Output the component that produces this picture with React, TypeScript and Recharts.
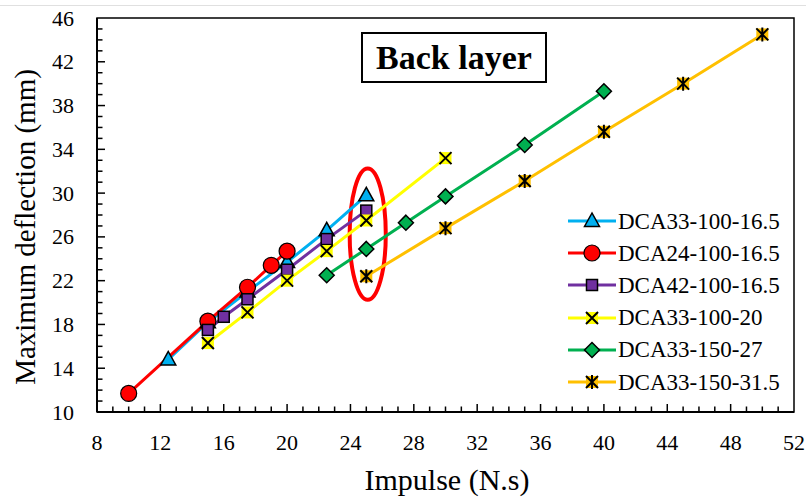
import React from 'react';
import { LineChart, Line, XAxis, YAxis, ReferenceArea } from 'recharts';

// Data
const impulseA = [12.5, 15, 17.5, 20, 22.5, 25];
const deflA = [14.8, 18.2, 21.0, 23.7, 26.6, 29.8];
const impulseB = [10, 15, 17.5, 19, 20];
const deflB = [11.7, 18.3, 21.4, 23.4, 24.7];
const impulseC = [15, 16, 17.5, 20, 22.5, 25];
const deflC = [17.5, 18.7, 20.3, 23.0, 25.8, 28.4];
const impulseD = [15, 17.5, 20, 22.5, 25, 30];
const deflD = [16.3, 19.1, 22.0, 24.7, 27.5, 33.2];
const impulseE = [22.5, 25, 27.5, 30, 35, 40];
const deflE = [22.5, 24.9, 27.3, 29.7, 34.4, 39.3];
const impulseF = [25, 30, 35, 40, 45, 50];
const deflF = [22.4, 26.8, 31.1, 35.6, 40.0, 44.5];

const seriesNames = [
  'DCA33-100-16.5',
  'DCA24-100-16.5',
  'DCA42-100-16.5',
  'DCA33-100-20',
  'DCA33-150-27',
  'DCA33-150-31.5',
];
const seriesColors = ['#00B0F0', '#FF0000', '#7030A0', '#FFFF00', '#00B050', '#FFC000'];
const markerKinds = ['triangle', 'circle', 'square', 'x', 'diamond', 'star'];

const xTicks = Array.from({ length: 45 }, (_, i) => 8 + i);
const yTicks = Array.from({ length: 37 }, (_, i) => 10 + i);

const zip = (xs: number[], ys: number[]) => xs.map((x, i) => ({ x, y: ys[i] }));
const seriesData = [
  zip(impulseA, deflA),
  zip(impulseB, deflB),
  zip(impulseC, deflC),
  zip(impulseD, deflD),
  zip(impulseE, deflE),
  zip(impulseF, deflF),
];

const FONT = "'Liberation Serif', 'Times New Roman', serif";

function Marker({ kind, cx, cy, color }: { kind: string; cx: number; cy: number; color: string }) {
  if (cx == null || cy == null) return null;
  switch (kind) {
    case 'triangle':
      return (
        <polygon
          points={`${cx},${cy - 8} ${cx - 7.5},${cy + 5.5} ${cx + 7.5},${cy + 5.5}`}
          fill={color}
          stroke="#000"
          strokeWidth={1.5}
        />
      );
    case 'circle':
      return <circle cx={cx} cy={cy} r={8} fill={color} stroke="#000" strokeWidth={1.2} />;
    case 'square':
      return <rect x={cx - 5.5} y={cy - 5.5} width={11} height={11} fill={color} stroke="#000" strokeWidth={1.5} />;
    case 'x':
      return (
        <g>
          <rect x={cx - 6} y={cy - 6} width={12} height={12} fill={color} />
          <path d={`M${cx - 6},${cy - 6}L${cx + 6},${cy + 6}M${cx + 6},${cy - 6}L${cx - 6},${cy + 6}`} stroke="#000" strokeWidth={2} />
        </g>
      );
    case 'diamond':
      return (
        <polygon
          points={`${cx},${cy - 7.5} ${cx + 7.5},${cy} ${cx},${cy + 7.5} ${cx - 7.5},${cy}`}
          fill={color}
          stroke="#000"
          strokeWidth={1.5}
        />
      );
    case 'star':
      return (
        <g>
          <rect x={cx - 6} y={cy - 6} width={12} height={12} fill={color} />
          <path
            d={`M${cx - 6},${cy - 6}L${cx + 6},${cy + 6}M${cx + 6},${cy - 6}L${cx - 6},${cy + 6}M${cx},${cy - 7}L${cx},${cy + 7}`}
            stroke="#000"
            strokeWidth={2}
          />
        </g>
      );
  }
  return null;
}

const XTick = (props: any) => {
  const { x, y, payload } = props;
  const v = payload.value as number;
  const major = (v - 8) % 4 === 0;
  return (
    <g>
      {v !== 8 && v !== 52 && <line x1={x} y1={y} x2={x} y2={y - (major ? 8 : 5.5)} stroke="#000" strokeWidth={1.5} />}
      {major && (
        <text x={x} y={y + 37.5} textAnchor="middle" fontFamily={FONT} fontSize={22} fill="#000">
          {v}
        </text>
      )}
    </g>
  );
};

const YTick = (props: any) => {
  const { x, y, payload } = props;
  const v = payload.value as number;
  const major = (v - 10) % 4 === 0;
  return (
    <g>
      {v !== 10 && v !== 46 && <line x1={x} y1={y} x2={x + (major ? 8 : 5.5)} y2={y} stroke="#000" strokeWidth={1.5} />}
      {major && (
        <text x={x - 23} y={y + 7.5} textAnchor="end" fontFamily={FONT} fontSize={22} fill="#000">
          {v}
        </text>
      )}
    </g>
  );
};

const EllipseShape = (props: any) => {
  const { x, y, width, height } = props;
  return (
    <ellipse
      cx={x + width / 2}
      cy={y + height / 2}
      rx={width / 2}
      ry={height / 2}
      fill="none"
      stroke="#FF0000"
      strokeWidth={4}
    />
  );
};

export default function App() {
  return (
    <div style={{ position: 'absolute', left: 0, top: 0, width: 806, height: 497, background: '#fff' }}>
      <div style={{ position: 'absolute', left: 0, top: 5, width: 806, height: 0, borderTop: '1px solid #e0e0e0' }} />
      <LineChart width={806} height={497} margin={{ top: 18, right: 12, bottom: 25, left: 37 }}>
        <XAxis
          dataKey="x"
          type="number"
          domain={[8, 52]}
          ticks={xTicks}
          interval={0}
          allowDecimals={false}
          tickLine={false}
          tickSize={0}
          tickMargin={0}
          tick={<XTick />}
          axisLine={{ stroke: '#000', strokeWidth: 2 }}
          height={60}
        />
        <YAxis
          dataKey="y"
          type="number"
          domain={[10, 46]}
          ticks={yTicks}
          interval={0}
          tickLine={false}
          tickSize={0}
          tickMargin={0}
          tick={<YTick />}
          axisLine={{ stroke: '#000', strokeWidth: 2 }}
          width={60}
        />
        <ReferenceArea x1={8} x2={52} y1={10} y2={46} fill="none" stroke="#000" strokeWidth={1.5} fillOpacity={0} />
        {seriesData.map((d, i) => (
          <Line
            key={seriesNames[i]}
            data={d}
            dataKey="y"
            name={seriesNames[i]}
            type="linear"
            stroke={seriesColors[i]}
            strokeWidth={3}
            isAnimationActive={false}
            dot={(p: any) => <Marker key={`${i}-${p.index}`} kind={markerKinds[i]} cx={p.cx} cy={p.cy} color={seriesColors[i]} />}
            activeDot={false}
          />
        ))}
        <ReferenceArea x1={23.95} x2={26.23} y1={20.25} y2={32.25} shape={<EllipseShape />} />
      </LineChart>
      <div
        style={{
          position: 'absolute',
          left: 567,
          top: 205,
          fontFamily: FONT,
          fontSize: 23,
          color: '#000',
        }}
      >
        {seriesNames.map((name, i) => (
          <div key={name} style={{ display: 'flex', alignItems: 'center', height: 32.2 }}>
            <svg width={50} height={22} style={{ marginRight: 1, display: 'block' }}>
              <line x1={1} y1={11} x2={49} y2={11} stroke={seriesColors[i]} strokeWidth={3} />
              <Marker kind={markerKinds[i]} cx={25} cy={11} color={seriesColors[i]} />
            </svg>
            <span style={{ lineHeight: '23px', whiteSpace: 'nowrap' }}>{name}</span>
          </div>
        ))}
      </div>
      <div
        style={{
          position: 'absolute',
          left: 361,
          top: 32,
          width: 182,
          height: 47,
          border: '2px solid #000',
          fontFamily: FONT,
          fontWeight: 'bold',
          fontSize: 34,
          display: 'flex',
          alignItems: 'center',
          justifyContent: 'center',
          background: '#fff',
        }}
      >
        Back layer
      </div>
      <svg width={806} height={497} style={{ position: 'absolute', left: 0, top: 0, pointerEvents: 'none' }}>
        <text x={447} y={490} textAnchor="middle" fontFamily={FONT} fontSize={30} fill="#000">
          Impulse (N.s)
        </text>
        <text
          x={0}
          y={0}
          transform="translate(35,227) rotate(-90)"
          textAnchor="middle"
          fontFamily={FONT}
          fontSize={29}
          fill="#000"
        >
          Maximum deflection (mm)
        </text>
      </svg>
    </div>
  );
}
